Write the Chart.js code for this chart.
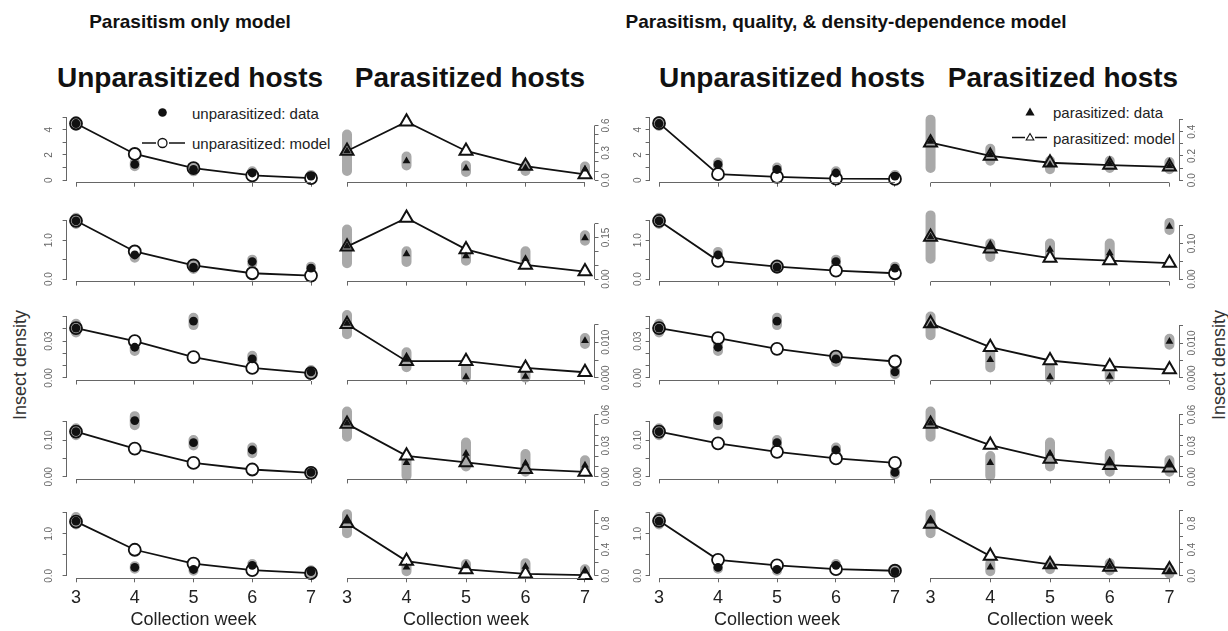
<!DOCTYPE html>
<html>
<head>
<meta charset="utf-8">
<title>Insect density</title>
<script src="https://cdn.jsdelivr.net/npm/chart.js@4.4.1/dist/chart.umd.min.js"></script>
<style>
  body { margin: 0; width: 1228px; height: 631px; background: #fff; position: relative; overflow: hidden;
         font-family: "Liberation Sans", Arial, sans-serif; color: #111; }
  canvas { position: absolute; }
  .lbl { position: absolute; white-space: nowrap; transform: translate(-50%, -50%); }
  .main { font-size: 19px; font-weight: bold; }
  .head { font-size: 28px; font-weight: bold; }
  .ylab { font-size: 18px; color: #333; transform: translate(-50%, -50%) rotate(-90deg); }
  .leg { position: absolute; font-size: 15px; color: #222; white-space: nowrap; transform: translateY(-50%); }
  #sym { position: absolute; left: 0; top: 0; }
</style>
</head>
<body>
<div class="lbl main" style="left:190px;top:22px">Parasitism only model</div>
<div class="lbl main" style="left:846px;top:22px">Parasitism, quality, &amp; density-dependence model</div>
<div class="lbl head" style="left:190px;top:78px">Unparasitized hosts</div>
<div class="lbl head" style="left:470px;top:78px">Parasitized hosts</div>
<div class="lbl head" style="left:792px;top:78px">Unparasitized hosts</div>
<div class="lbl head" style="left:1063px;top:78px">Parasitized hosts</div>
<div class="lbl ylab" style="left:20px;top:365px">Insect density</div>
<div class="lbl ylab" style="left:1219px;top:365px">Insect density</div>

<svg id="sym" width="1228" height="631">
  <circle cx="162.5" cy="112.5" r="4.3" fill="#111"/>
  <line x1="142" y1="143" x2="156" y2="143" stroke="#111" stroke-width="1.5"/>
  <line x1="169" y1="143" x2="185" y2="143" stroke="#111" stroke-width="1.5"/>
  <circle cx="162.5" cy="143" r="4.5" fill="#fff" stroke="#111" stroke-width="1.3"/>
  <polygon points="1030,107.5 1034.6,115.5 1025.4,115.5" fill="#111"/>
  <line x1="1012" y1="137.5" x2="1025" y2="137.5" stroke="#111" stroke-width="1.5"/>
  <line x1="1035" y1="137.5" x2="1047" y2="137.5" stroke="#111" stroke-width="1.5"/>
  <polygon points="1030,133.5 1033.8,140 1026.2,140" fill="#fff" stroke="#111" stroke-width="1.1"/>
</svg>
<div class="leg" style="left:192px;top:113px">unparasitized: data</div>
<div class="leg" style="left:192px;top:143px">unparasitized: model</div>
<div class="leg" style="left:1053px;top:112px">parasitized: data</div>
<div class="leg" style="left:1053px;top:138px">parasitized: model</div>

<script>
// Collection weeks (x axis)
const weeks = [3, 4, 5, 6, 7];

// Observed densities, one row per panel row (top to bottom); same data in both models
const unparData = [
  [4.5, 1.25, 0.85, 0.57, 0.32],
  [1.5, 0.62, 0.31, 0.45, 0.28],
  [0.0406, 0.025, 0.0463, 0.0155, 0.005],
  [0.123, 0.153, 0.093, 0.073, 0.012],
  [1.3, 0.2, 0.15, 0.25, 0.1]
];
const unparLow = [
  [4.3, 1.1, 0.7, 0.45, 0.22],
  [1.42, 0.55, 0.26, 0.4, 0.22],
  [0.037, 0.022, 0.043, 0.013, 0.003],
  [0.113, 0.14, 0.085, 0.064, 0.007],
  [1.22, 0.17, 0.12, 0.2, 0.06]
];
const unparHigh = [
  [4.7, 1.4, 1.0, 0.7, 0.42],
  [1.58, 0.7, 0.38, 0.5, 0.32],
  [0.044, 0.028, 0.049, 0.018, 0.0065],
  [0.132, 0.165, 0.1, 0.08, 0.016],
  [1.4, 0.23, 0.2, 0.28, 0.13]
];
const parData = [
  [0.32, 0.21, 0.13, 0.135, 0.12],
  [0.118, 0.09, 0.083, 0.073, 0.148],
  [0.0152, 0.0052, 0.0003, 0.0004, 0.0104],
  [0.0516, 0.0137, 0.0226, 0.013, 0.0113],
  [0.83, 0.13, 0.15, 0.14, 0.07]
];
const parLow = [
  [0.1, 0.16, 0.09, 0.1, 0.09],
  [0.057, 0.062, 0.066, 0.058, 0.138],
  [0.0122, 0.003, 0.0001, 0.0001, 0.0095],
  [0.0387, 0.001, 0.01, 0.005, 0.005],
  [0.65, 0.07, 0.1, 0.08, 0.03]
];
const parHigh = [
  [0.5, 0.26, 0.16, 0.16, 0.15],
  [0.179, 0.1, 0.1, 0.1, 0.158],
  [0.0176, 0.0072, 0.003, 0.0025, 0.0112],
  [0.063, 0.02, 0.033, 0.022, 0.016],
  [0.94, 0.19, 0.18, 0.19, 0.1]
];

// Model predictions
const unparOnlyModel = [
  [4.5, 2.08, 0.95, 0.38, 0.17],
  [1.5, 0.71, 0.35, 0.15, 0.09],
  [0.0406, 0.03, 0.0169, 0.0082, 0.004],
  [0.123, 0.077, 0.038, 0.02, 0.011],
  [1.29, 0.62, 0.29, 0.135, 0.063]
];
const parOnlyModel = [
  [0.32, 0.64, 0.32, 0.155, 0.063],
  [0.117, 0.22, 0.107, 0.051, 0.027],
  [0.015, 0.0047, 0.0047, 0.0028, 0.0016],
  [0.051, 0.0203, 0.0139, 0.0074, 0.0048],
  [0.8, 0.224, 0.097, 0.03, 0.01]
];
const unparFullModel = [
  [4.53, 0.48, 0.27, 0.13, 0.1],
  [1.5, 0.47, 0.32, 0.22, 0.15],
  [0.0406, 0.0324, 0.0237, 0.0174, 0.0134],
  [0.123, 0.091, 0.068, 0.05, 0.038],
  [1.31, 0.38, 0.25, 0.16, 0.12]
];
const parFullModel = [
  [0.31, 0.2, 0.144, 0.125, 0.11],
  [0.118, 0.085, 0.059, 0.052, 0.045],
  [0.0156, 0.0088, 0.005, 0.0033, 0.0024],
  [0.051, 0.0306, 0.0171, 0.0113, 0.0087],
  [0.79, 0.3, 0.173, 0.133, 0.097]
];

// y axis ranges, ticks and tick labels per panel row
const unparYMax = [5.0, 1.62, 0.0512, 0.171, 1.5];
const parOnlyYMax = [0.69, 0.227, 0.0176, 0.0606, 0.96];
const parFullYMax = [0.52, 0.177, 0.018, 0.0606, 0.96];
const unparTicks = [
  [0, 1, 2, 3, 4, 5], [0, 0.5, 1, 1.5], [0, 0.01, 0.02, 0.03, 0.04, 0.05], [0, 0.05, 0.1, 0.15], [0, 0.5, 1, 1.5]
];
const unparTickLabels = [
  ['0', '', '2', '', '4', ''], ['0.0', '', '1.0', ''], ['0.00', '', '', '0.03', '', ''], ['0.00', '', '0.10', ''], ['0.0', '', '1.0', '']
];
const parOnlyTicks = [
  [0, 0.1, 0.2, 0.3, 0.4, 0.5, 0.6], [0, 0.05, 0.1, 0.15, 0.2], [0, 0.005, 0.01, 0.015],
  [0, 0.01, 0.02, 0.03, 0.04, 0.05, 0.06], [0, 0.2, 0.4, 0.6, 0.8, 1.0]
];
const parOnlyTickLabels = [
  ['0.0', '', '', '0.3', '', '', '0.6'], ['0.00', '', '', '0.15', ''], ['0.000', '', '0.010', ''],
  ['0.00', '', '', '0.03', '', '', '0.06'], ['0.0', '', '0.4', '', '0.8', '']
];
const parFullTicks = [
  [0, 0.1, 0.2, 0.3, 0.4, 0.5], [0, 0.05, 0.1, 0.15], [0, 0.005, 0.01, 0.015],
  [0, 0.01, 0.02, 0.03, 0.04, 0.05, 0.06], [0, 0.2, 0.4, 0.6, 0.8, 1.0]
];
const parFullTickLabels = [
  ['0.0', '', '0.2', '', '0.4', ''], ['0.00', '', '0.10', ''], ['0.000', '', '0.010', ''],
  ['0.00', '', '', '0.03', '', '', '0.06'], ['0.0', '', '0.4', '', '0.8', '']
];

// layout
const colLeft = [66.6, 337.5, 649.6, 921];
const colRight = [320.4, 594.5, 904.4, 1179];
const axisY = [182.7, 281.6, 380.5, 479.4, 578.3];
const labelGap = [17, 12, 11, 13];
const PLOT_H = 68;
const Y_AXIS_W = 30;
const AXIS_COLOR = '#666';
const GREY = '#a9a9a9';

const columns = [
  { model: unparOnlyModel, data: unparData, low: unparLow, high: unparHigh, yMax: unparYMax, ticks: unparTicks, labels: unparTickLabels, shape: 'circle', right: false },
  { model: parOnlyModel, data: parData, low: parLow, high: parHigh, yMax: parOnlyYMax, ticks: parOnlyTicks, labels: parOnlyTickLabels, shape: 'triangle', right: true },
  { model: unparFullModel, data: unparData, low: unparLow, high: unparHigh, yMax: unparYMax, ticks: unparTicks, labels: unparTickLabels, shape: 'circle', right: false },
  { model: parFullModel, data: parData, low: parLow, high: parHigh, yMax: parFullYMax, ticks: parFullTicks, labels: parFullTickLabels, shape: 'triangle', right: true }
];

const align = p => Math.round(p - 0.5) + 0.5;

// R style axes: lines only between first and last tick, rotated y labels
function rAxes(right, gap) {
  return {
    id: 'rAxes',
    afterDraw(chart) {
      const { ctx, chartArea: a } = chart;
      const xs = chart.scales.x, ys = chart.scales.y;
      ctx.save();
      ctx.strokeStyle = AXIS_COLOR;
      ctx.lineWidth = 1;
      ctx.beginPath();
      const yb = align(a.bottom);
      ctx.moveTo(xs.getPixelForValue(xs.ticks[0].value), yb);
      ctx.lineTo(xs.getPixelForValue(xs.ticks[xs.ticks.length - 1].value), yb);
      const xe = align(right ? a.right : a.left);
      ctx.moveTo(xe, ys.getPixelForValue(ys.ticks[0].value));
      ctx.lineTo(xe, ys.getPixelForValue(ys.ticks[ys.ticks.length - 1].value));
      ctx.stroke();

      ctx.fillStyle = AXIS_COLOR;
      ctx.font = '10px "Liberation Sans", Arial, sans-serif';
      ctx.textAlign = 'center';
      ctx.textBaseline = 'middle';
      ys.ticks.forEach(t => {
        if (!t.label) return;
        ctx.save();
        ctx.translate(right ? a.right + gap : a.left - gap, ys.getPixelForValue(t.value));
        ctx.rotate(-Math.PI / 2);
        ctx.fillText(t.label, 0, 0);
        ctx.restore();
      });
      ctx.restore();
    }
  };
}

function makePanel(c, r) {
  const col = columns[c];
  const right = col.right;
  const plotL = colLeft[c], plotR = colRight[c];
  const bottom = axisY[r], top = bottom - PLOT_H;
  const xAxisH = r === 4 ? 52 : 24;

  const cvLeft = Math.floor(plotL - (right ? 12 : Y_AXIS_W + 8));
  const cvRight = Math.ceil(plotR + (right ? Y_AXIS_W + 8 : 12));
  const cvTop = Math.floor(top - 12);
  const cvBottom = Math.ceil(bottom + xAxisH);

  const cv = document.createElement('canvas');
  cv.width = cvRight - cvLeft;
  cv.height = cvBottom - cvTop;
  cv.style.left = cvLeft + 'px';
  cv.style.top = cvTop + 'px';
  document.body.appendChild(cv);

  const padding = right
    ? { left: plotL - cvLeft, right: cvRight - plotR - Y_AXIS_W, top: top - cvTop, bottom: 0 }
    : { left: plotL - cvLeft - Y_AXIS_W, right: cvRight - plotR, top: top - cvTop, bottom: 0 };

  const model = col.model[r], data = col.data[r], low = col.low[r], high = col.high[r];
  const yMax = col.yMax[r];
  const tickVals = col.ticks[r], tickLabels = col.labels[r];

  const greyPts = [];
  weeks.forEach((w, i) => {
    greyPts.push({ x: w, y: low[i] }, { x: w, y: high[i] }, { x: w, y: null });
  });

  const isCircle = col.shape === 'circle';
  const modelFill = model.map((v, i) => (v >= low[i] && v <= high[i]) ? GREY : '#fff');

  new Chart(cv, {
    type: 'line',
    data: {
      datasets: [
        {
          data: greyPts,
          borderColor: GREY,
          borderWidth: 10,
          borderCapStyle: 'round',
          pointRadius: 0,
          spanGaps: false,
          clip: false,
          order: 3
        },
        {
          data: weeks.map((w, i) => ({ x: w, y: model[i] })),
          borderColor: '#111',
          borderWidth: 1.8,
          pointStyle: col.shape,
          pointRadius: isCircle ? 6 : 7.5,
          pointBorderWidth: isCircle ? 1.8 : 2,
          pointBorderColor: '#111',
          pointBackgroundColor: modelFill,
          clip: false,
          order: 2
        },
        {
          data: weeks.map((w, i) => ({ x: w, y: data[i] })),
          showLine: false,
          pointStyle: col.shape,
          pointRadius: isCircle ? 4.4 : 4.5,
          pointBorderWidth: 0,
          pointBackgroundColor: '#111',
          clip: false,
          order: 1
        }
      ]
    },
    options: {
      responsive: false,
      animation: false,
      events: [],
      devicePixelRatio: 1,
      layout: { padding },
      plugins: { legend: { display: false }, tooltip: { enabled: false } },
      scales: {
        x: {
          type: 'linear',
          min: weeks[0] - 0.16,
          max: weeks[weeks.length - 1] + 0.16,
          bounds: 'data',
          afterBuildTicks: s => { s.ticks = weeks.map(w => ({ value: w })); },
          afterFit: s => { s.height = cvBottom - bottom; },
          border: { display: false },
          grid: { drawOnChartArea: false, drawTicks: true, tickLength: 4, color: AXIS_COLOR },
          ticks: {
            display: r === 4,
            autoSkip: false,
            maxRotation: 0,
            padding: 5,
            color: '#222',
            font: { size: 18, family: '"Liberation Sans", Arial, sans-serif' },
            callback: v => String(v)
          },
          title: {
            display: r === 4,
            text: 'Collection week',
            color: '#222',
            padding: { top: 0, bottom: 0 },
            font: { size: 18, family: '"Liberation Sans", Arial, sans-serif' }
          }
        },
        y: {
          type: 'linear',
          position: right ? 'right' : 'left',
          min: -0.04 * yMax,
          max: 1.04 * yMax,
          bounds: 'data',
          afterBuildTicks: s => { s.ticks = tickVals.map(v => ({ value: v })); },
          afterFit: s => { s.width = Y_AXIS_W; },
          border: { display: false },
          grid: { drawOnChartArea: false, drawTicks: true, tickLength: 4, color: AXIS_COLOR },
          ticks: { display: false, callback: (v, i) => tickLabels[i] }
        }
      }
    },
    plugins: [rAxes(right, labelGap[c])]
  });
}

for (let c = 0; c < 4; c++) {
  for (let r = 0; r < 5; r++) makePanel(c, r);
}
</script>
</body>
</html>
